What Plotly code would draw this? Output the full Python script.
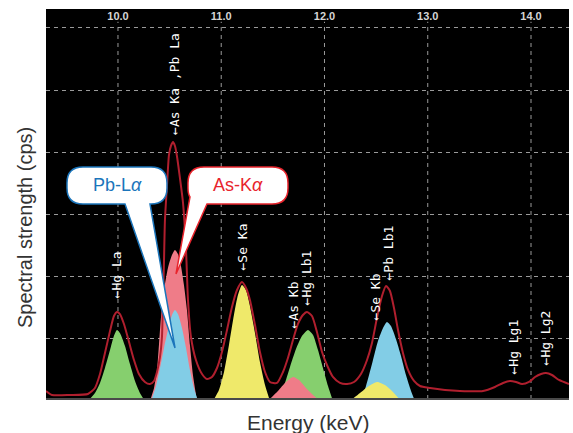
import plotly.graph_objects as go

# ---------------- data (energy keV, intensity in grid units) ----------------
tick_vals = [10, 11, 12, 13, 14]
tick_text = ["10.0", "11.0", "12.0", "13.0", "14.0"]

spec_E = [9.303, 9.361, 9.535, 9.709, 9.777, 9.826, 9.874, 9.923, 9.961, 9.990,
          10.019, 10.058, 10.107, 10.155, 10.203, 10.261, 10.310, 10.349, 10.378, 10.407,
          10.426, 10.436, 10.446, 10.455, 10.475, 10.494, 10.513, 10.533, 10.552, 10.571,
          10.600, 10.630, 10.659, 10.678, 10.707, 10.755, 10.814, 10.862, 10.910, 10.959,
          11.007, 11.056, 11.104, 11.153, 11.201, 11.240, 11.278, 11.327, 11.375, 11.424,
          11.472, 11.540, 11.598, 11.646, 11.695, 11.743, 11.791, 11.830, 11.879, 11.927,
          11.976, 12.024, 12.082, 12.150, 12.218, 12.286, 12.353, 12.412, 12.460, 12.508,
          12.557, 12.596, 12.634, 12.673, 12.712, 12.760, 12.809, 12.867, 12.925, 13.022,
          13.167, 13.312, 13.535, 13.651, 13.729, 13.797, 13.855, 13.913, 13.981, 14.039,
          14.097, 14.145, 14.203, 14.271, 14.368]
spec_I = [0.161, 0.097, 0.097, 0.113, 0.209, 0.434, 0.772, 1.126, 1.367, 1.432,
          1.399, 1.239, 0.949, 0.659, 0.434, 0.306, 0.273, 0.322, 0.466, 0.708,
          1.029, 1.625, 2.268, 2.911, 3.474, 3.957, 4.102, 4.166, 4.102, 3.941,
          3.587, 3.185, 2.429, 1.625, 1.029, 0.659, 0.434, 0.354, 0.386, 0.531,
          0.788, 1.142, 1.512, 1.785, 1.914, 1.818, 1.625, 1.222, 0.788, 0.466,
          0.306, 0.290, 0.466, 0.692, 0.981, 1.239, 1.383, 1.432, 1.367, 1.110,
          0.788, 0.579, 0.386, 0.290, 0.273, 0.306, 0.434, 0.659, 0.933, 1.335,
          1.689, 1.850, 1.769, 1.496, 1.142, 0.772, 0.499, 0.322, 0.241, 0.209,
          0.177, 0.161, 0.161, 0.225, 0.290, 0.322, 0.306, 0.273, 0.306, 0.386,
          0.434, 0.450, 0.418, 0.338, 0.273]

asKa_E = [10.310, 10.349, 10.378, 10.397, 10.416, 10.446, 10.484, 10.523, 10.552, 10.581,
          10.610, 10.639, 10.668, 10.697, 10.726, 10.765]
asKa_I = [0, 0.209, 0.499, 0.901, 1.335, 1.785, 2.139, 2.348, 2.429, 2.364,
          2.171, 1.866, 1.464, 0.901, 0.418, 0]

pbLa_E = [10.320, 10.368, 10.407, 10.446, 10.484, 10.523, 10.552, 10.581, 10.620, 10.659,
          10.697, 10.736, 10.775]
pbLa_I = [0, 0.241, 0.531, 0.853, 1.142, 1.383, 1.464, 1.399, 1.174, 0.853,
          0.499, 0.209, 0]

hgLa_E = [9.709, 9.777, 9.826, 9.874, 9.923, 9.961, 9.990, 10.019, 10.068, 10.116,
          10.165, 10.213, 10.261]
hgLa_I = [0, 0.129, 0.290, 0.531, 0.820, 1.046, 1.142, 1.094, 0.885, 0.595,
          0.322, 0.129, 0]

seKa_E = [10.920, 10.978, 11.027, 11.075, 11.123, 11.162, 11.201, 11.240, 11.278, 11.327,
          11.375, 11.424, 11.472]
seKa_I = [0, 0.177, 0.466, 0.901, 1.383, 1.705, 1.866, 1.785, 1.528, 1.094,
          0.627, 0.257, 0]

hgLb1_E = [11.549, 11.608, 11.666, 11.724, 11.782, 11.840, 11.889, 11.937, 11.985, 12.034, 12.082]
hgLb1_I = [0, 0.241, 0.547, 0.836, 1.046, 1.142, 1.062, 0.820, 0.531, 0.241, 0]

asKb_E = [11.452, 11.549, 11.627, 11.695, 11.753, 11.821, 11.889, 11.956]
asKb_I = [0, 0.161, 0.306, 0.386, 0.338, 0.209, 0.097, 0]

pbLb1_E = [12.353, 12.402, 12.460, 12.518, 12.567, 12.605, 12.644, 12.692, 12.741, 12.789, 12.838, 12.876]
pbLb1_I = [0, 0.241, 0.595, 0.965, 1.174, 1.271, 1.206, 0.997, 0.724, 0.418, 0.161, 0]

seKb_E = [12.247, 12.344, 12.431, 12.508, 12.586, 12.663, 12.741]
seKb_I = [0, 0.129, 0.241, 0.306, 0.257, 0.145, 0]

line_labels = ["←Hg La", "←As Ka ,Pb La", "←Se Ka", "←As Kb", "←Hg Lb1",
               "←Se Kb", "←Pb Lb1", "←Hg Lg1", "←Hg Lg2"]
label_E = [9.990, 10.542, 11.201, 11.695, 11.830, 12.489, 12.615, 13.826, 14.145]
label_I = [1.625, 4.246, 2.075, 1.142, 1.512, 1.271, 1.914, 0.386, 0.547]

# ---------------- styling ----------------
GREEN = "#86cf6e"
BLUE = "#82cde6"
PINK = "#ef7c88"
YELLOW = "#efe96a"
RED = "#b01f2e"

X_RANGE = [9.303, 14.368]
Y_RANGE = [0.032, 6.305]
W, H = 573, 433
ML, MR, MT, MB = 46, 4, 9, 34
PW, PH = W - ML - MR, H - MT - MB


def px2data(px, py):
    ex = X_RANGE[0] + (px - ML) / PW * (X_RANGE[1] - X_RANGE[0])
    iy = Y_RANGE[1] - (py - MT) / PH * (Y_RANGE[1] - Y_RANGE[0])
    return ex, iy


def path_from_px(cmds):
    out = []
    for c in cmds:
        op = c[0]
        pts = c[1:]
        coords = []
        for (a, b) in pts:
            ex, iy = px2data(a, b)
            coords.append(f"{ex:.5f},{iy:.5f}")
        out.append(op + " ".join(coords) if coords else op)
    return " ".join(out)


fig = go.Figure()

fills = [
    (asKa_E, asKa_I, PINK),
    (pbLa_E, pbLa_I, BLUE),
    (hgLa_E, hgLa_I, GREEN),
    (seKa_E, seKa_I, YELLOW),
    (hgLb1_E, hgLb1_I, GREEN),
    (asKb_E, asKb_I, PINK),
    (pbLb1_E, pbLb1_I, BLUE),
    (seKb_E, seKb_I, YELLOW),
]
for ex, iy, col in fills:
    fig.add_trace(go.Scatter(x=ex, y=iy, mode="lines", fill="tozeroy",
                             fillcolor=col, line=dict(width=0, color=col, shape="spline", smoothing=0.6),
                             hoverinfo="skip", showlegend=False))

fig.add_trace(go.Scatter(x=spec_E, y=spec_I, mode="lines",
                         line=dict(color=RED, width=2, shape="spline", smoothing=0.6),
                         showlegend=False))

# vertical dashed grid (stops under the top labels)
shapes = []
for tv in tick_vals:
    shapes.append(dict(type="line", xref="x", yref="y", x0=tv, x1=tv, y0=Y_RANGE[0], y1=6.1,
                       line=dict(color="rgba(205,205,205,0.75)", width=1, dash="4px,4px"), layer="below"))
# bottom frame line
shapes.append(dict(type="line", xref="paper", yref="paper", x0=0, x1=1, y0=0, y1=0,
                   line=dict(color="#4a4a4a", width=2), layer="above"))

# callouts (geometry given in pixels, converted to data coords)
r = 16
x0, x1, y0, y1 = 67, 167, 167, 204
pb_path = path_from_px([
    ("M", (x0 + r, y0)), ("L", (x1 - r, y0)), ("Q", (x1, y0), (x1, y0 + r)),
    ("L", (x1, y1 - r)), ("Q", (x1, y1), (x1 - r, y1)), ("L", (150, y1)),
    ("L", (175, 348)), ("L", (125, y1)), ("L", (x0 + r, y1)),
    ("Q", (x0, y1), (x0, y1 - r)), ("L", (x0, y0 + r)), ("Q", (x0, y0), (x0 + r, y0)), ("Z",)
])
shapes.append(dict(type="path", xref="x", yref="y", path=pb_path, fillcolor="white",
                   line=dict(color="#1b75bb", width=1.5), layer="above"))

x0, x1 = 188, 288
as_path = path_from_px([
    ("M", (x0 + r, y0)), ("L", (x1 - r, y0)), ("Q", (x1, y0), (x1, y0 + r)),
    ("L", (x1, y1 - r)), ("Q", (x1, y1), (x1 - r, y1)), ("L", (207, y1)),
    ("L", (176, 274)), ("L", (190, 197)), ("Q", (x0, y1 - 10), (x0, y1 - r)),
    ("L", (x0, y0 + r)), ("Q", (x0, y0), (x0 + r, y0)), ("Z",)
])
shapes.append(dict(type="path", xref="x", yref="y", path=as_path, fillcolor="white",
                   line=dict(color="#e8242c", width=1.5), layer="above"))

annotations = []
for txt, ex, iy in zip(line_labels, label_E, label_I):
    annotations.append(dict(x=ex, y=iy, xref="x", yref="y", text=txt, textangle=-90,
                            showarrow=False, xanchor="center", yanchor="bottom",
                            font=dict(family="DejaVu Sans Mono", size=13, color="white")))

cx, cy = px2data(117, 185)
annotations.append(dict(x=cx, y=cy, xref="x", yref="y", text="Pb-L<i>α</i>", showarrow=False,
                        xanchor="center", yanchor="middle",
                        font=dict(family="Liberation Sans, Arial", size=18, color="#1b75bb")))
cx, cy = px2data(238, 185)
annotations.append(dict(x=cx, y=cy, xref="x", yref="y", text="As-K<i>α</i>", showarrow=False,
                        xanchor="center", yanchor="middle",
                        font=dict(family="Liberation Sans, Arial", size=18, color="#e8242c")))

annotations.append(dict(x=(25 - ML) / PW, y=(H - MB - 228) / PH, xref="paper", yref="paper",
                        text="Spectral strength (cps)", textangle=-90, showarrow=False,
                        xanchor="center", yanchor="middle",
                        font=dict(family="Liberation Sans, Arial", size=20, color="#333333")))
annotations.append(dict(x=(308 - ML) / PW, y=(H - MB - 422) / PH, xref="paper", yref="paper",
                        text="Energy (keV)", showarrow=False,
                        xanchor="center", yanchor="middle",
                        font=dict(family="Liberation Sans, Arial", size=21, color="#333333")))

fig.update_layout(
    width=W, height=H,
    margin=dict(l=ML, r=MR, t=MT, b=MB, pad=0),
    paper_bgcolor="white", plot_bgcolor="black",
    shapes=shapes, annotations=annotations,
    xaxis=dict(range=X_RANGE, side="top", tickvals=tick_vals, ticktext=tick_text,
               ticklabelposition="inside", ticks="", showgrid=False, zeroline=False,
               showline=False, fixedrange=True,
               tickfont=dict(family="Liberation Sans, Arial", size=11, color="#d5d5d5", weight="bold")),
    yaxis=dict(range=Y_RANGE, showticklabels=False, ticks="", tick0=0, dtick=1,
               showgrid=True, gridcolor="rgba(205,205,205,0.75)", gridwidth=1, griddash="4px,4px",
               zeroline=False, showline=False, fixedrange=True),
)

fig.write_html("out.html", config={"displayModeBar": False},
               post_script="document.body.style.margin='0';")
